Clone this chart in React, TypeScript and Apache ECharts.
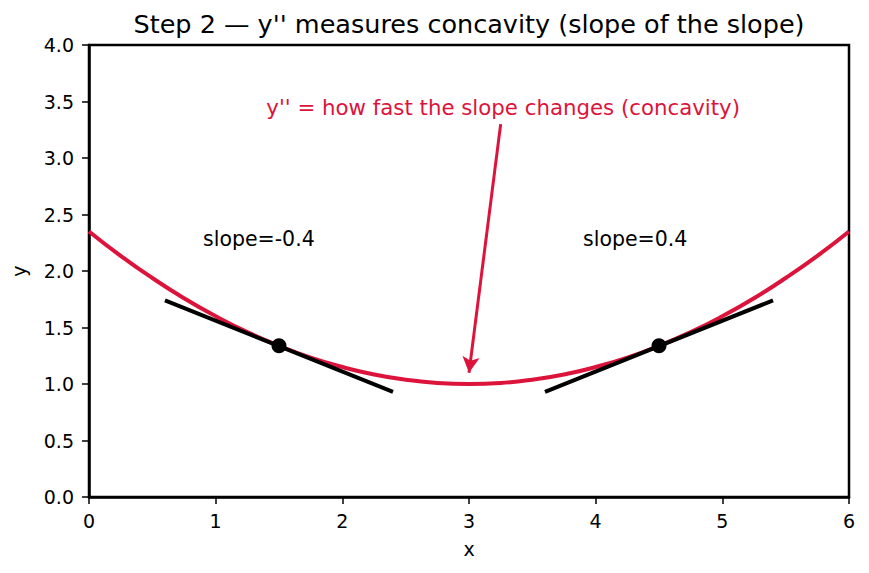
import React, { useEffect, useRef } from "react";
import * as echarts from "echarts";

const curveX = [0, 0.25, 0.5, 0.75, 1, 1.25, 1.5, 1.75, 2, 2.25, 2.5, 2.75, 3, 3.25, 3.5, 3.75, 4, 4.25, 4.5, 4.75, 5, 5.25, 5.5, 5.75, 6];
const curveY = [2.35, 2.134, 1.938, 1.759, 1.6, 1.459, 1.338, 1.234, 1.15, 1.084, 1.038, 1.009, 1.0, 1.009, 1.038, 1.084, 1.15, 1.234, 1.338, 1.459, 1.6, 1.759, 1.938, 2.134, 2.35];
const tangentLeft = [[0.6, 1.74], [2.4, 0.93]];
const tangentRight = [[3.6, 0.93], [5.4, 1.74]];
const tangentPoints = [[1.5, 1.338], [4.5, 1.338]];
const slopeLabels = [
  { pos: [0.9, 2.28], text: "slope=-0.4" },
  { pos: [3.9, 2.28], text: "slope=0.4" },
];
const annotationText = "y'' = how fast the slope changes (concavity)";
const annotationTextPos = [3.27, 3.45];
const arrowFrom = [3.25, 3.3];
const arrowTo = [3.0, 1.1];
const titleText = "Step 2 \u2014 y'' measures concavity (slope of the slope)";

const FONT = "DejaVu Sans";
const CRIMSON = "#dc143c";

export default function App() {
  const ref = useRef<HTMLDivElement>(null);
  useEffect(() => {
    if (!ref.current) return;
    const chart = echarts.init(ref.current, null, { renderer: "svg" });
    const curve = curveX.map((x, i) => [x, curveY[i]]);
    chart.setOption({
      animation: false,
      backgroundColor: "#fff",
      textStyle: { fontFamily: FONT },
      graphic: [
        {
          type: "text",
          x: 469,
          y: 24,
          silent: true,
          style: {
            text: titleText,
            fontFamily: FONT,
            fontSize: 25.5,
            fill: "#000",
            textAlign: "center",
            textVerticalAlign: "middle",
          },
        },
      ],
      grid: {
        left: 89,
        right: 20,
        top: 45,
        bottom: 76,
        show: true,
        borderColor: "#000",
        borderWidth: 2.5,
        backgroundColor: "transparent",
      },
      xAxis: {
        type: "value",
        min: 0,
        max: 6,
        interval: 1,
        name: "x",
        nameLocation: "middle",
        nameGap: 42,
        nameTextStyle: { fontFamily: FONT, fontSize: 19, color: "#000" },
        axisLine: { show: true, onZero: false, lineStyle: { color: "#000", width: 2.5 } },
        axisTick: { show: true, inside: false, length: 7, lineStyle: { color: "#000", width: 1.5 } },
        axisLabel: { fontFamily: FONT, fontSize: 19, color: "#000", margin: 14 },
        splitLine: { show: false },
      },
      yAxis: {
        type: "value",
        min: 0,
        max: 4,
        interval: 0.5,
        name: "y",
        nameLocation: "middle",
        nameGap: 61,
        nameTextStyle: { fontFamily: FONT, fontSize: 19, color: "#000" },
        axisLine: { show: true, onZero: false, lineStyle: { color: "#000", width: 2.5 } },
        axisTick: { show: true, inside: false, length: 7, lineStyle: { color: "#000", width: 1.5 } },
        axisLabel: {
          fontFamily: FONT,
          fontSize: 19,
          color: "#000",
          margin: 15,
          formatter: (v: number) => v.toFixed(1),
        },
        splitLine: { show: false },
      },
      series: [
        {
          type: "line",
          data: curve,
          smooth: true,
          showSymbol: false,
          lineStyle: { color: CRIMSON, width: 4 },
          z: 2,
          markLine: {
            silent: true,
            symbol: ["none", "arrow"],
            symbolSize: [13, 16],
            label: { show: false },
            lineStyle: { color: CRIMSON, width: 3, type: "solid", opacity: 1 },
            data: [[{ coord: arrowFrom }, { coord: arrowTo }]],
          },
        },
        {
          type: "line",
          data: tangentLeft,
          showSymbol: false,
          lineStyle: { color: "#000", width: 4 },
          z: 3,
        },
        {
          type: "line",
          data: tangentRight,
          showSymbol: false,
          lineStyle: { color: "#000", width: 4 },
          z: 3,
        },
        {
          type: "scatter",
          data: tangentPoints,
          symbolSize: 15,
          itemStyle: { color: "#000", opacity: 1 },
          z: 4,
        },
        {
          type: "scatter",
          data: slopeLabels.map((s) => ({ value: s.pos, name: s.text })),
          symbolSize: 0,
          silent: true,
          itemStyle: { opacity: 1 },
          label: {
            show: true,
            position: "inside",
            align: "left",
            verticalAlign: "middle",
            formatter: (p: any) => p.name,
            fontFamily: FONT,
            fontSize: 20.5,
            color: "#000",
          },
        },
        {
          type: "scatter",
          data: [{ value: annotationTextPos, name: annotationText }],
          symbolSize: 0,
          silent: true,
          itemStyle: { opacity: 1 },
          label: {
            show: true,
            position: "inside",
            align: "center",
            verticalAlign: "middle",
            formatter: (p: any) => p.name,
            fontFamily: FONT,
            fontSize: 21.3,
            color: CRIMSON,
          },
        },
      ],
    });
    return () => chart.dispose();
  }, []);
  return (
    <div
      ref={ref}
      style={{ position: "fixed", left: 0, top: 0, width: 869, height: 573, background: "#fff" }}
    />
  );
}
